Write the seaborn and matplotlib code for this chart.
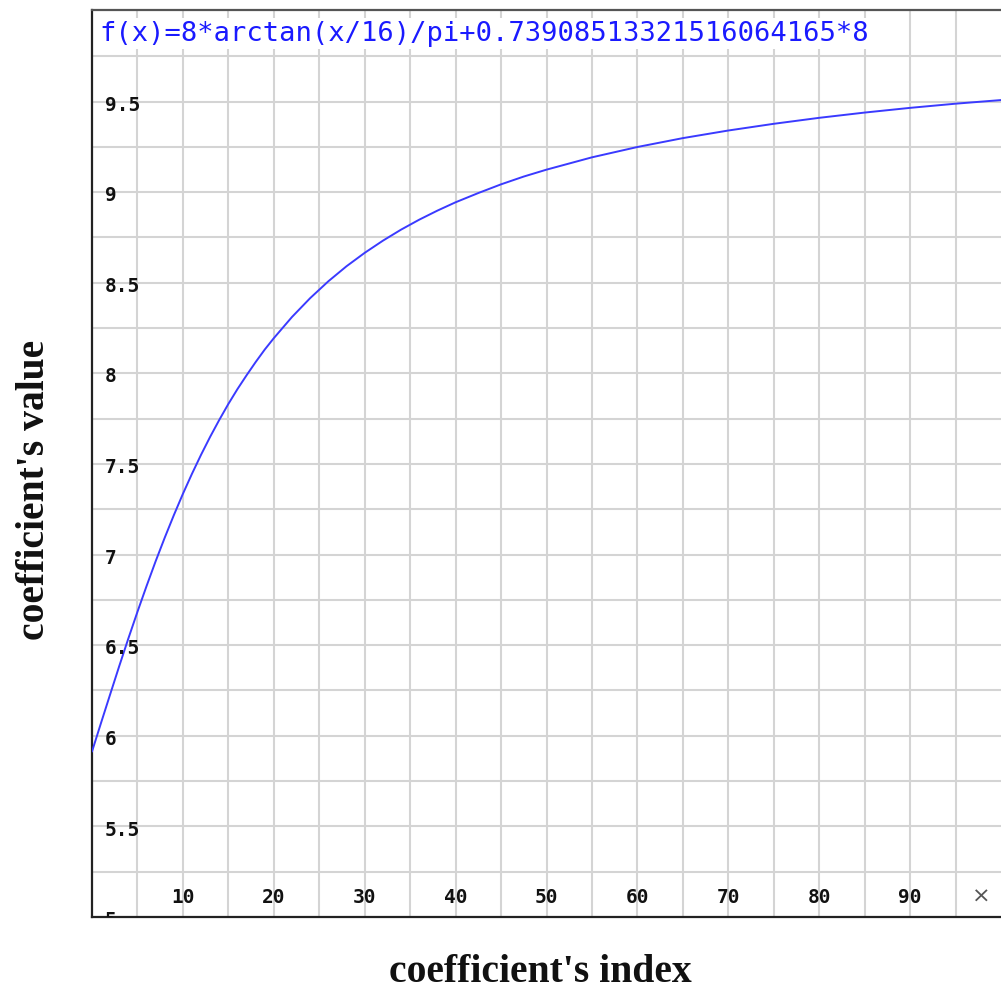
import pandas as pd
import seaborn as sns
import matplotlib.pyplot as plt

# values
index = [0, 1, 2, 3, 4, 5, 6, 7, 8, 9, 10, 11, 12, 13, 14, 15, 16, 17, 18,
         19, 20, 22, 24, 26, 28, 30, 32, 34, 36, 38, 40, 42.5, 45, 47.5, 50,
         55, 60, 65, 70, 75, 80, 85, 90, 95, 100]
value = [5.913, 6.072, 6.229, 6.385, 6.537, 6.684, 6.826, 6.963, 7.093,
         7.217, 7.335, 7.446, 7.551, 7.650, 7.743, 7.831, 7.913, 7.989,
         8.062, 8.131, 8.194, 8.311, 8.415, 8.508, 8.591, 8.665, 8.732,
         8.793, 8.848, 8.898, 8.944, 8.995, 9.043, 9.086, 9.124, 9.192,
         9.249, 9.298, 9.340, 9.377, 9.410, 9.439, 9.465, 9.488, 9.508]

x_ticks = [10, 20, 30, 40, 50, 60, 70, 80, 90]
y_ticks = [5, 5.5, 6, 6.5, 7, 7.5, 8, 8.5, 9, 9.5]
y_tick_labels = ["5", "5.5", "6", "6.5", "7", "7.5", "8", "8.5", "9", "9.5"]
formula = "f(x)=8*arctan(x/16)/pi+0.73908513321516064165*8"

df = pd.DataFrame({"index": index, "value": value})

sns.set_style("white")
plt.rcParams["font.family"] = ["DejaVu Sans Mono", "DejaVu Sans"]

fig = plt.figure(figsize=(10.01, 9.9), dpi=100)
ax = fig.add_axes([92 / 1001, 1 - 917 / 990, 1 - 92 / 1001, (917 - 10) / 990])

ax.set_xlim(0, 100)
ax.set_ylim(5.022, 10.005)

# grid: every 5 in x, every 0.25 in y
for gx in range(5, 100, 5):
    ax.axvline(gx, color="#d4d4d4", lw=1.5, zorder=0)
for k in range(1, 20):
    ax.axhline(5 + k * 0.25, color="#d4d4d4", lw=1.5, zorder=0)

sns.lineplot(data=df, x="index", y="value", ax=ax, color="#3a3aff",
             lw=1.4, zorder=3)

ax.set_xticks(x_ticks)
ax.set_xticklabels([])
ax.set_yticks(y_ticks)
ax.set_yticklabels([])
ax.set_yticks([5.25 + k * 0.5 for k in range(10)], minor=True)
ax.tick_params(axis="x", direction="in", length=6, width=1.2, color="#222222")
ax.tick_params(axis="y", which="major", direction="in", length=6, width=1.2,
               color="#222222")
ax.tick_params(axis="y", which="minor", direction="in", length=4, width=1,
               color="#555555")

for t in x_ticks:
    ax.text(t, 5.11, str(t), ha="center", va="center", fontsize=14,
            fontweight="bold", color="#111111", zorder=4)
for t, lab in zip(y_ticks, y_tick_labels):
    ax.text(1.4, t - 0.02, lab, ha="left", va="center", fontsize=14,
            fontweight="bold", color="#111111", clip_on=True, zorder=4)
ax.text(97.8, 5.11, "\u00d7", ha="center", va="center", fontsize=16,
        color="#555555", family="DejaVu Sans")

ax.text(0.8, 9.875, formula, ha="left", va="center", fontsize=19.5,
        color="#1a1aff", zorder=5,
        bbox=dict(facecolor="white", edgecolor="none", pad=1.5))

for side in ["left", "bottom"]:
    ax.spines[side].set_color("#222222")
    ax.spines[side].set_linewidth(1.6)
ax.spines["top"].set_color("#555555")
ax.spines["top"].set_linewidth(1.6)
ax.spines["right"].set_visible(False)

ax.set_xlabel("")
ax.set_ylabel("")
fig.text(540 / 1001, 1 - 972 / 990, "coefficient's index", ha="center",
         va="center", fontsize=28.5, fontweight="bold", color="#111111",
         family="Liberation Serif")
fig.text(35 / 1001, 1 - 490 / 990, "coefficient's value", ha="center",
         va="center", rotation=90, fontsize=28.5, fontweight="bold",
         color="#111111", family="Liberation Serif")

fig.savefig("out.png", dpi=100)
